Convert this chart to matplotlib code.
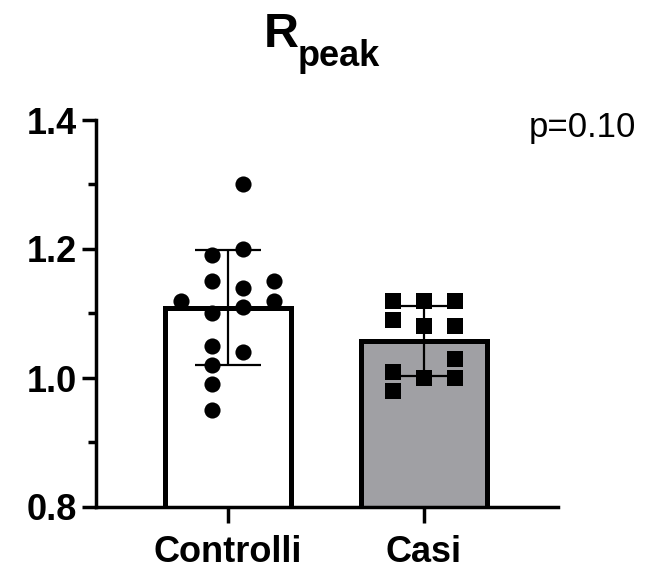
import numpy as np
import matplotlib
matplotlib.use("Agg")
import matplotlib.pyplot as plt
from matplotlib.ticker import MultipleLocator

plt.rcParams['font.family'] = ['Liberation Sans', 'DejaVu Sans']

# Data
groups = ["Controlli", "Casi"]
controlli = [1.30, 1.20, 1.19, 1.15, 1.15, 1.14, 1.12, 1.12, 1.11, 1.10,
             1.05, 1.04, 1.02, 0.99, 0.95]
casi = [1.12, 1.12, 1.12, 1.09, 1.08, 1.08, 1.03, 1.01, 1.00, 1.00, 0.98]
p_text = "p=0.10"
y_ticks = [0.8, 1.0, 1.2, 1.4]

# Column-scatter lanes (in units of marker spacing) for each point
controlli_lane = [0.5, 0.5, -0.5, -0.5, 1.5, 0.5, -1.5, 1.5, 0.5, -0.5,
                  -0.5, 0.5, -0.5, -0.5, -0.5]
casi_lane = [-1, 0, 1, -1, 0, 1, 1, -1, 0, 1, -1]
lane_step = 0.158

values = [np.array(controlli), np.array(casi)]
means = [v.mean() for v in values]
sds = [v.std(ddof=1) for v in values]
xpos = np.arange(len(groups))

fig = plt.figure(figsize=(6.51, 5.73), dpi=100)
ax = fig.add_axes([96 / 651, 66 / 573, 462 / 651, 387 / 573])

ax.bar(xpos, means, width=0.64, bottom=0, color=["white", "#A0A0A4"],
       edgecolor="black", linewidth=3.6, zorder=2)
ax.errorbar(xpos, means, yerr=sds, fmt="none", ecolor="black",
            elinewidth=1.6, capsize=24, capthick=1.6, zorder=3)

ax.scatter(xpos[0] + np.array(controlli_lane) * lane_step, values[0],
           s=135, marker="o", color="black", linewidths=0, zorder=4)
ax.scatter(xpos[1] + np.array(casi_lane) * lane_step, values[1],
           s=125, marker="s", color="black", linewidths=0, zorder=4)

ax.set_xlim(-0.673, 1.684)
ax.set_ylim(0.8, 1.4)

for side in ("top", "right"):
    ax.spines[side].set_visible(False)
for side in ("left", "bottom"):
    ax.spines[side].set_linewidth(2.5)
    ax.spines[side].set_zorder(5)

ax.set_yticks(y_ticks)
ax.set_yticklabels([f"{t:.1f}" for t in y_ticks], fontsize=26,
                   fontweight="bold")
ax.yaxis.set_minor_locator(MultipleLocator(0.1))
ax.tick_params(axis="y", which="major", length=10, width=2.5, pad=4)
ax.tick_params(axis="y", which="minor", length=5.5, width=2.5)

ax.set_xticks(xpos)
ax.set_xticklabels(groups, fontsize=26, fontweight="bold")
ax.tick_params(axis="x", which="major", length=11.5, width=2.5, pad=9)

# Title: R with subscript "peak"
fig.text(299 / 651, 1 - 47 / 573, "R", fontsize=35, fontweight="bold",
         ha="right", va="baseline")
fig.text(298 / 651, 1 - 66 / 573, "peak", fontsize=26, fontweight="bold",
         ha="left", va="baseline")

fig.text(636 / 651, 1 - 137 / 573, p_text, fontsize=25,
         ha="right", va="baseline")

fig.savefig("out.png", dpi=100)
